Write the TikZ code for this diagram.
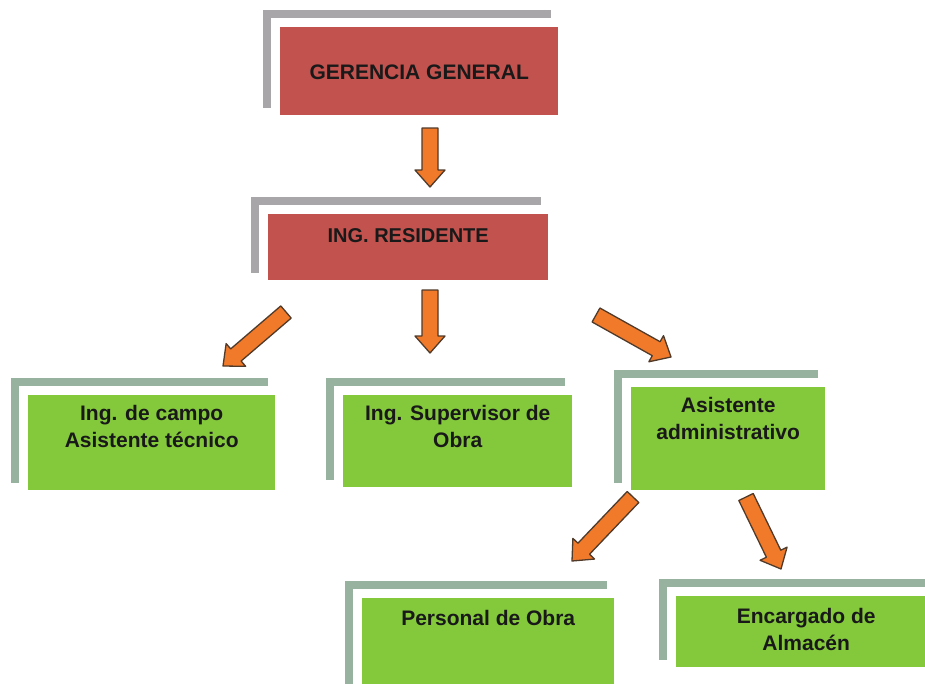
\documentclass[tikz,border=0pt]{standalone}
\usepackage{fontspec}
\setmainfont{Liberation Sans}
\usetikzlibrary{calc,positioning}

\definecolor{rojo}{RGB}{194,82,78}
\definecolor{verde}{RGB}{132,200,60}
\definecolor{gris}{RGB}{168,166,168}
\definecolor{grisverde}{RGB}{152,178,160}
\definecolor{naranja}{RGB}{240,122,42}
\definecolor{cafe}{RGB}{80,58,42}

% barra en L detras de cada caja
\newcommand{\sombra}[2]{%
  \fill[#2] ([shift={(-17,-17)}]#1.north west) rectangle ([shift={(-7,-9)}]#1.north east);
  \fill[#2] ([shift={(-17,-17)}]#1.north west) rectangle ([shift={(-9,-7)}]#1.south west);}

% flecha gruesa de #1 a #2
\newcommand{\flecha}[2]{%
  \coordinate (base) at ($(#2)!17pt!(#1)$);
  \filldraw[flechita] ($(#1)!8pt!90:(#2)$) -- ($(base)!8pt!-90:(#1)$) -- ($(base)!15pt!-90:(#1)$)
    -- (#2) -- ($(base)!15pt!90:(#1)$) -- ($(base)!8pt!90:(#1)$) -- ($(#1)!8pt!-90:(#2)$) -- cycle;}

\begin{document}
\begin{tikzpicture}[
  x=1pt,
  y=-1pt,
  jefe/.style={fill=rojo, anchor=north west, inner sep=0pt},
  area/.style={fill=verde, anchor=north west, inner sep=0pt},
  lbl/.style={anchor=north, align=center, inner sep=0pt, text=black!90, font=\bfseries\fontsize{21}{27}\selectfont},
  flechita/.style={fill=naranja, draw=cafe, line width=1.3pt, line join=round}
]
\useasboundingbox (0,0) rectangle (925,683);
\clip (0,0) rectangle (925,683);

\node[jefe, minimum width=278pt, minimum height=88pt, label={[lbl, yshift=-38pt]north:GERENCIA GENERAL}] (gerencia) at (280,27) {};
\node[jefe, minimum width=280pt, minimum height=66pt, label={[lbl, yshift=-14pt, font=\bfseries\fontsize{20}{27}\selectfont]north:ING. RESIDENTE}] (residente) at (268,214) {};

\node[area, minimum width=247pt, minimum height=95pt, label={[lbl, yshift=-10pt]north:Ing. de campo\\Asistente técnico}] (campo) at (28,395) {};
\node[area, minimum width=229pt, minimum height=92pt, label={[lbl, yshift=-10pt]north:Ing. Supervisor de\\Obra}] (supervisor) at (343,395) {};
\node[area, minimum width=194pt, minimum height=103pt, label={[lbl, yshift=-10pt]north:Asistente\\administrativo}] (asistente) at (631,387) {};
\node[area, minimum width=252pt, minimum height=95pt, label={[lbl, yshift=-12pt]north:Personal de Obra}] (personal) at (362,598) {};
\node[area, minimum width=260pt, minimum height=71pt, label={[lbl, yshift=-12pt]north:Encargado de\\Almacén}] (almacen) at (676,596) {};

\sombra{gerencia}{gris}
\sombra{residente}{gris}
\sombra{campo}{grisverde}
\sombra{supervisor}{grisverde}
\sombra{asistente}{grisverde}
\sombra{personal}{grisverde}
\sombra{almacen}{grisverde}

\coordinate (g-s) at (430,128);
\coordinate (r-n) at (430,187);
\coordinate (r-s) at (430,290);
\coordinate (sup-n) at (430,353);
\coordinate (r-sw) at (286,312);
\coordinate (cam-n) at (223,366);
\coordinate (r-se) at (596,315);
\coordinate (asi-n) at (671,357);
\coordinate (asi-sw) at (633,497);
\coordinate (per-n) at (572,561);
\coordinate (asi-se) at (746,497);
\coordinate (alm-n) at (781,569);

\flecha{g-s}{r-n}
\flecha{r-s}{sup-n}
\flecha{r-sw}{cam-n}
\flecha{r-se}{asi-n}
\flecha{asi-sw}{per-n}
\flecha{asi-se}{alm-n}

\end{tikzpicture}
\end{document}
